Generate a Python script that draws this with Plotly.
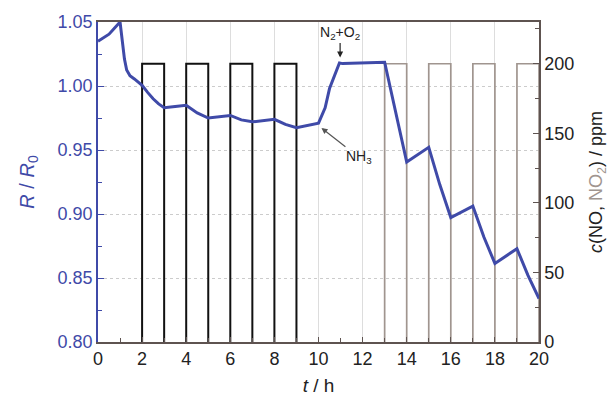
import plotly.graph_objects as go

# R/R0 curve
t_R = [0, 0.5, 1.0, 1.06, 1.12, 1.2, 1.3, 1.45, 1.65, 2.0, 2.25, 2.5, 2.75, 3.0, 3.5,
       4.0, 4.5, 5.0, 6.0, 6.5, 7.0, 8.0, 8.5, 9.0, 10.0, 10.3, 10.5, 10.95, 11.1,
       13.0, 14.0, 15.0, 15.5, 16.0, 17.0, 17.5, 18.0, 19.0, 19.5, 20.0]
R_R0 = [1.035, 1.0405, 1.05, 1.042, 1.033, 1.021, 1.0125, 1.008, 1.0055, 1.0005, 0.995,
        0.990, 0.986, 0.983, 0.984, 0.985, 0.979, 0.975, 0.977, 0.9735, 0.972, 0.974,
        0.970, 0.9675, 0.971, 0.983, 0.998, 1.018, 1.0175, 1.0186, 0.9406, 0.9521,
        0.923, 0.8972, 0.9062, 0.882, 0.8614, 0.8729, 0.852, 0.834]

# gas pulses (start time h, duration h, concentration ppm)
no_starts = [2, 4, 6, 8]
no2_starts = [13, 15, 17, 19]
pulse_len = 1
pulse_conc = 200

BLUE = "#3f4aa8"
DARK = "#5e5350"
GREY = "#a0958f"
FONT = "Liberation Sans, Arial, sans-serif"

def pulses(starts):
    xs, ys = [], []
    for s in starts:
        xs += [s, s, s + pulse_len, s + pulse_len, None]
        ys += [0, pulse_conc, pulse_conc, 0, None]
    return xs, ys

fig = go.Figure()
x1, y1 = pulses(no_starts)
fig.add_trace(go.Scatter(x=x1, y=y1, mode="lines", yaxis="y",
                         line=dict(color="#111111", width=2), showlegend=False))
x2, y2 = pulses(no2_starts)
fig.add_trace(go.Scatter(x=x2, y=y2, mode="lines", yaxis="y",
                         line=dict(color=GREY, width=1.7), showlegend=False))
fig.add_trace(go.Scatter(x=t_R, y=R_R0, mode="lines", yaxis="y2",
                         line=dict(color=BLUE, width=3), showlegend=False))

fig.update_layout(
    width=615, height=405,
    margin=dict(l=98, r=74, t=21, b=58),
    paper_bgcolor="white", plot_bgcolor="white",
    font=dict(family=FONT, size=18, color="#222222"),
    xaxis=dict(range=[0, 20], dtick=2, tick0=0, ticks="inside", ticklen=5,
               tickcolor=DARK, showline=True, linecolor=DARK, linewidth=1.5,
               mirror=True, showgrid=True, gridcolor="#dddddd", gridwidth=1,
               zeroline=False, tickfont=dict(size=18, color="#222222"),
               minor=dict(dtick=1, ticks="inside", ticklen=4, tickcolor=DARK, showgrid=False),
               title=dict(text="<i>t</i> / h", font=dict(size=19), standoff=10)),
    yaxis=dict(range=[0, 230], side="right", tickvals=[0, 50, 100, 150, 200],
               ticks="inside", ticklen=6, tickcolor=DARK, showline=True,
               linecolor=DARK, linewidth=1.5, showgrid=False, zeroline=False,
               tickfont=dict(size=18, color="#222222"),
               minor=dict(tickvals=[25, 75, 125, 175, 225], ticks="inside", ticklen=4, tickcolor=DARK),
               title=dict(text="<i>c</i>(NO, <span style='color:#a0958f'>NO<sub>2</sub></span>) / ppm",
                          font=dict(size=18, color="#222222"), standoff=16)),
    yaxis2=dict(range=[0.8, 1.05], side="left", overlaying="y", dtick=0.05, tick0=0.8,
                tickformat=".2f", ticks="inside", ticklen=6, tickcolor=BLUE,
                showline=True, linecolor=BLUE, linewidth=1.5, showgrid=True,
                gridcolor="#cccccc", griddash="dot", gridwidth=1, zeroline=False,
                tickfont=dict(size=18, color=BLUE),
                minor=dict(dtick=0.025, ticks="inside", ticklen=4, tickcolor=BLUE, showgrid=False),
                title=dict(text="<i>R</i> / <i>R</i><sub>0</sub>", font=dict(size=20, color=BLUE),
                           standoff=18)),
    annotations=[
        dict(x=10.98, y=1.0214, xref="x", yref="y2", text="N<sub>2</sub>+O<sub>2</sub>",
             showarrow=True, ax=0, ay=-26, arrowhead=2, arrowsize=1, arrowwidth=1.2,
             arrowcolor="#222222", font=dict(size=14, color="#222222"), standoff=1),
        dict(x=10.1, y=0.9677, xref="x", yref="y2", text="NH<sub>3</sub>",
             showarrow=True, ax=38, ay=30, arrowhead=2, arrowsize=1, arrowwidth=1.2,
             arrowcolor="#555555", font=dict(size=14, color="#222222"), standoff=1),
    ],
)

fig.write_html("out.html")
